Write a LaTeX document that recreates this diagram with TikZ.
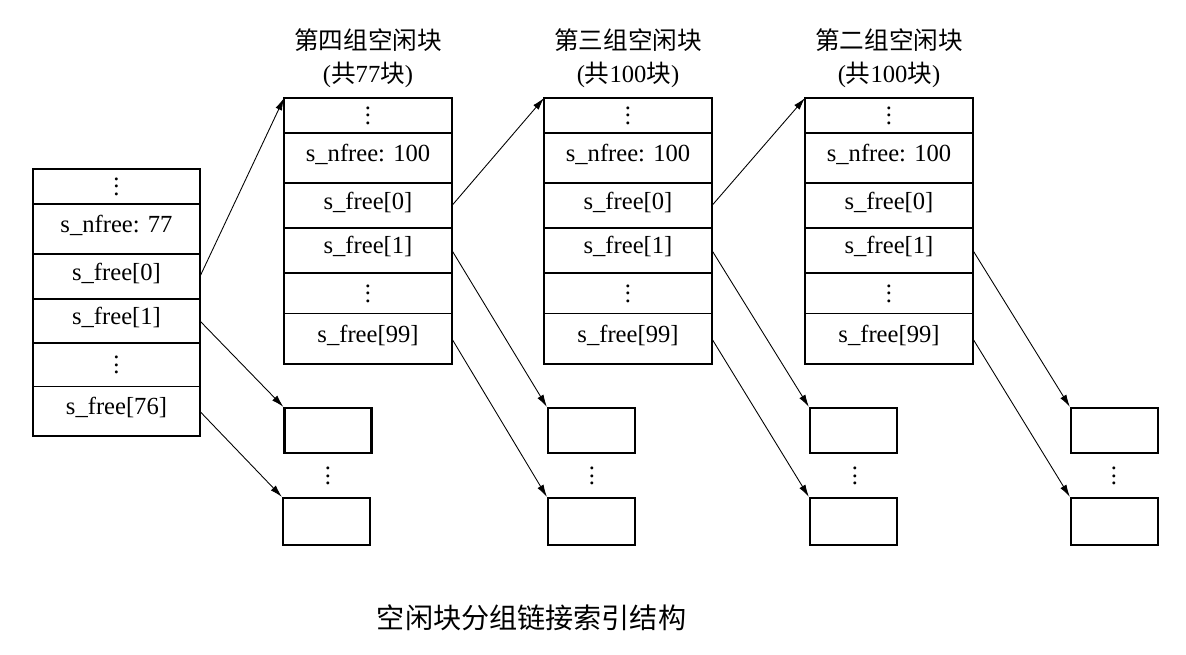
\documentclass[tikz,border=0pt]{standalone}
\usepackage{fontspec}
\setmainfont{Liberation Serif}
\newfontfamily\cjk{Noto Sans CJK SC}
\usetikzlibrary{positioning,arrows.meta}

% three stacked dots in the text font
\newcommand{\vdts}{\vbox{\baselineskip4.3pt\lineskiplimit0pt\hbox{.}\hbox{.}\hbox{.}}}

\tikzset{
	row/.style={draw,line width=0.6pt,minimum width=3.36cm,inner sep=0pt,outer sep=0pt,
		font=\fontsize{14}{17}\selectfont},
	cell/.style={row,text height=10pt,text depth=6pt},
	dotcell/.style={row},
	vd/.style={inner sep=0pt,font=\fontsize{14}{17}\selectfont},
	boxframe/.style={draw,line width=1.3pt},
	blk/.style={draw,line width=1.3pt,minimum width=1.74cm,minimum height=0.9cm,inner sep=0pt},
	grouptitle/.style={align=center,font=\fontsize{14}{18.7}\selectfont},
	ptr/.style={-{Latex[length=7pt,width=4pt]},line width=0.5pt},
}

\begin{document}
\begin{tikzpicture}[x=0.02cm,y=-0.02cm]
	\useasboundingbox (0,0) rectangle (1186,654);
	% the super block
	\node[dotcell,minimum width=3.34cm,minimum height=0.7cm,anchor=north] (s0) at (116.5,169) {\vdts};
	\node[cell,minimum width=3.34cm,minimum height=1cm,below=0pt of s0] (s1) {s\_nfree: 77};
	\node[cell,minimum width=3.34cm,minimum height=0.9cm,below=0pt of s1] (s2) {s\_free[0]};
	\node[cell,minimum width=3.34cm,minimum height=0.88cm,below=0pt of s2] (s3) {s\_free[1]};
	\node[dotcell,minimum width=3.34cm,minimum height=0.88cm,below=0pt of s3] (s4) {\vdts};
	\node[cell,minimum width=3.34cm,minimum height=0.98cm,below=0pt of s4] (s5) {s\_free[76]};
	\draw[boxframe] (s0.north west) rectangle (s5.south east);
	% group four (77 blocks)
	\node[grouptitle] (t4) at (368,58.5) {{\cjk 第四组空闲块}\\({\cjk 共}77{\cjk 块})};
	\node[dotcell,minimum height=0.7cm,anchor=north] (a0) at (368,98) {\vdts};
	\node[cell,minimum height=1cm,below=0pt of a0] (a1) {s\_nfree: 100};
	\node[cell,minimum height=0.9cm,below=0pt of a1] (a2) {s\_free[0]};
	\node[cell,minimum height=0.9cm,below=0pt of a2] (a3) {s\_free[1]};
	\node[dotcell,minimum height=0.82cm,below=0pt of a3] (a4) {\vdts};
	\node[cell,minimum height=1cm,below=0pt of a4] (a5) {s\_free[99]};
	\draw[boxframe] (a0.north west) rectangle (a5.south east);
	\node[blk] (p1) at (328,430.5) {};
	\node[vd] (p1d) at (328,476) {\vdts};
	\node[blk,minimum height=0.94cm] (p2) at (326.5,521.5) {};
	% group three
	\node[grouptitle] (t3) at (628,58.5) {{\cjk 第三组空闲块}\\({\cjk 共}100{\cjk 块})};
	\node[dotcell,minimum height=0.7cm,anchor=north] (b0) at (628,98) {\vdts};
	\node[cell,minimum height=1cm,below=0pt of b0] (b1) {s\_nfree: 100};
	\node[cell,minimum height=0.9cm,below=0pt of b1] (b2) {s\_free[0]};
	\node[cell,minimum height=0.9cm,below=0pt of b2] (b3) {s\_free[1]};
	\node[dotcell,minimum height=0.82cm,below=0pt of b3] (b4) {\vdts};
	\node[cell,minimum height=1cm,below=0pt of b4] (b5) {s\_free[99]};
	\draw[boxframe] (b0.north west) rectangle (b5.south east);
	\node[blk] (q1) at (591.5,430.5) {};
	\node[vd] (q1d) at (592,476) {\vdts};
	\node[blk,minimum height=0.94cm] (q2) at (591.5,521.5) {};
	% group two
	\node[grouptitle] (t2) at (889,58.5) {{\cjk 第二组空闲块}\\({\cjk 共}100{\cjk 块})};
	\node[dotcell,minimum height=0.7cm,anchor=north] (c0) at (889,98) {\vdts};
	\node[cell,minimum height=1cm,below=0pt of c0] (c1) {s\_nfree: 100};
	\node[cell,minimum height=0.9cm,below=0pt of c1] (c2) {s\_free[0]};
	\node[cell,minimum height=0.9cm,below=0pt of c2] (c3) {s\_free[1]};
	\node[dotcell,minimum height=0.82cm,below=0pt of c3] (c4) {\vdts};
	\node[cell,minimum height=1cm,below=0pt of c4] (c5) {s\_free[99]};
	\draw[boxframe] (c0.north west) rectangle (c5.south east);
	\node[blk] (r1) at (853.5,430.5) {};
	\node[vd] (r1d) at (855,476) {\vdts};
	\node[blk,minimum height=0.94cm] (r2) at (853.5,521.5) {};
	% group one (free blocks only)
	\node[blk] (u1) at (1114.5,430.5) {};
	\node[vd] (u1d) at (1114,476) {\vdts};
	\node[blk,minimum height=0.94cm] (u2) at (1114.5,521.5) {};
	% pointers
	\draw[ptr] (s2.east) -- (a0.north west);
	\draw[ptr] (s3.east) -- (p1.north west);
	\draw[ptr] (s5.east) -- (p2.north west);
	\draw[ptr] (a2.east) -- (b0.north west);
	\draw[ptr] (a3.east) -- (q1.north west);
	\draw[ptr] (a5.east) -- (q2.north west);
	\draw[ptr] (b2.east) -- (c0.north west);
	\draw[ptr] (b3.east) -- (r1.north west);
	\draw[ptr] (b5.east) -- (r2.north west);
	\draw[ptr] (c3.east) -- (u1.north west);
	\draw[ptr] (c5.east) -- (u2.north west);
	% caption
	\node[font=\fontsize{16}{19}\selectfont\cjk] (cap) at (531.5,618) {空闲块分组链接索引结构};
\end{tikzpicture}
\end{document}
